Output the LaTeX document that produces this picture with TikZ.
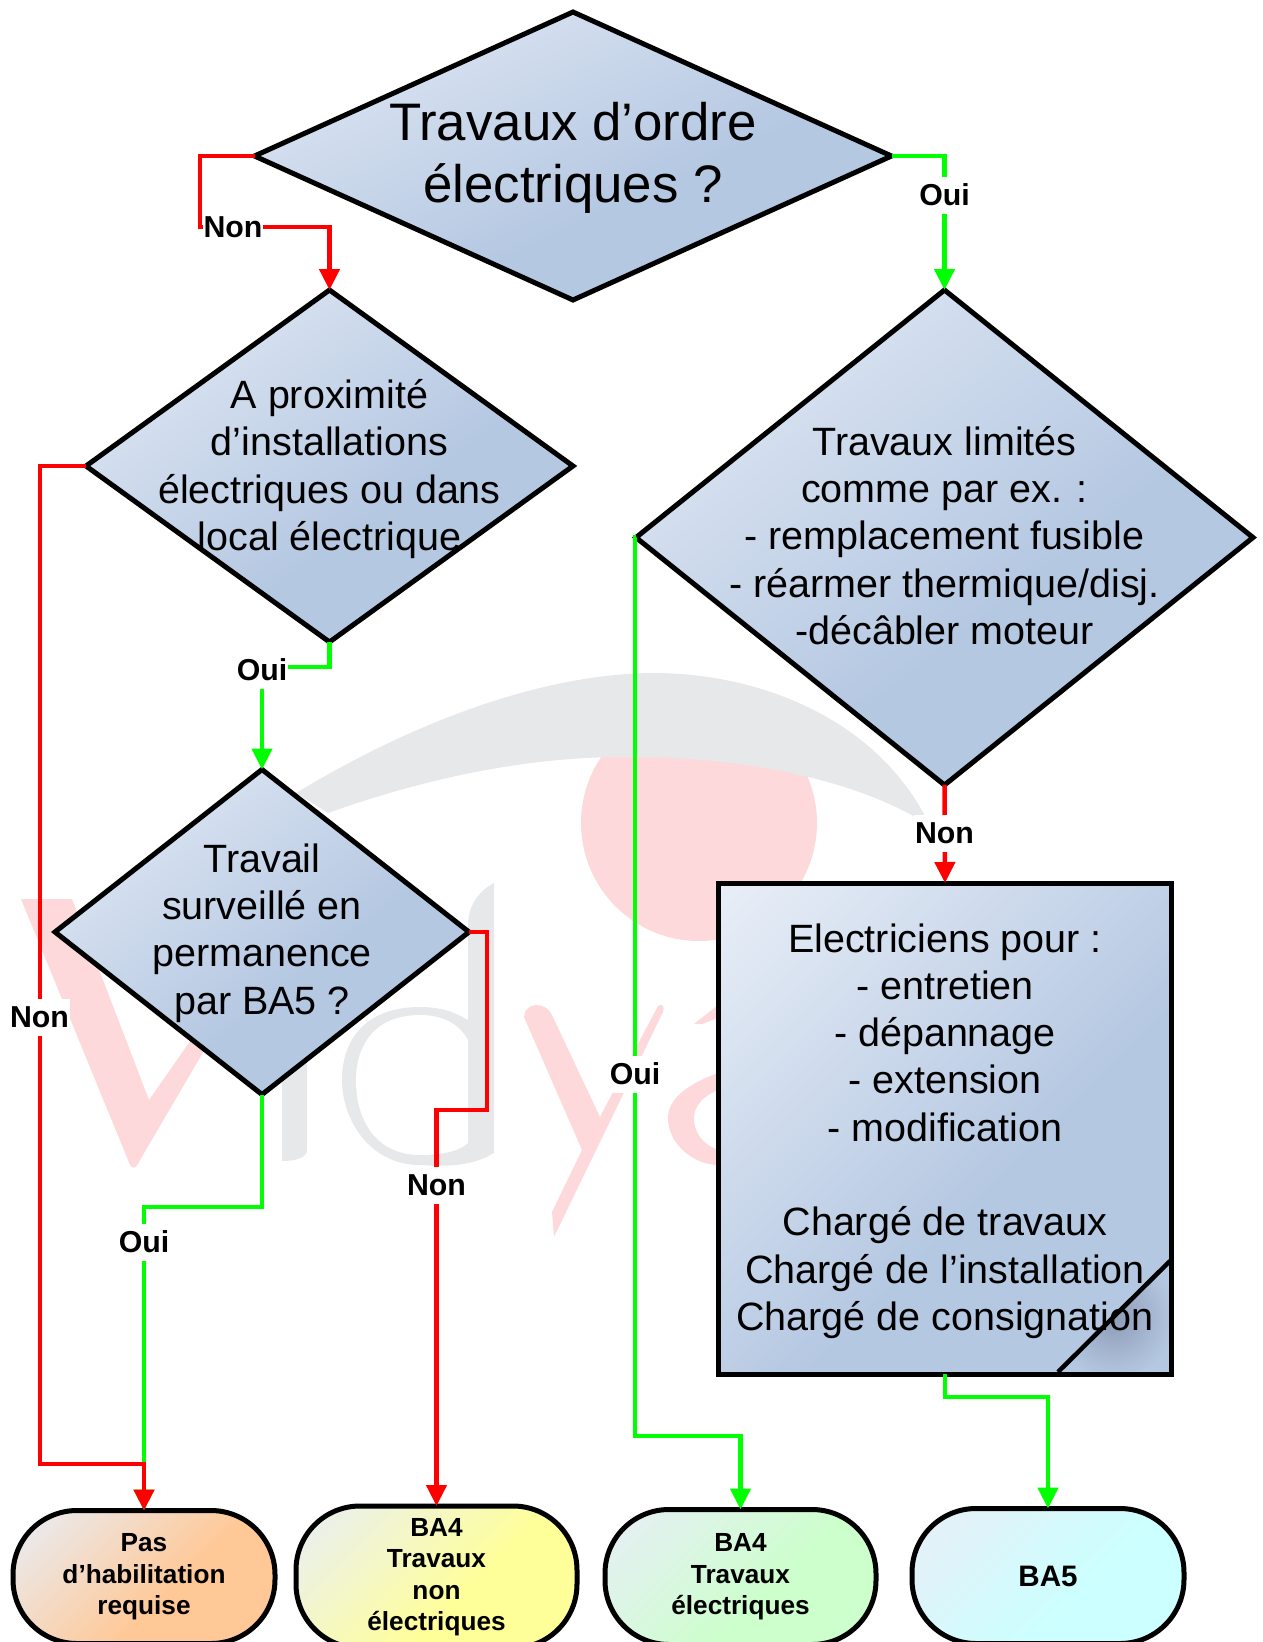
\documentclass[tikz,border=0pt]{standalone}
\usepackage{fontspec}
\setmainfont{Liberation Sans}
\usetikzlibrary{shapes.geometric,arrows.meta}
\definecolor{blueA}{HTML}{E8EEF7}
\definecolor{blueB}{HTML}{B5C8E2}
\definecolor{orA}{HTML}{E8EEF7}
\definecolor{orB}{HTML}{FFC896}
\definecolor{yeA}{HTML}{E8EEF7}
\definecolor{yeB}{HTML}{FFFF99}
\definecolor{grA}{HTML}{E8EEF7}
\definecolor{grB}{HTML}{CCFFCC}
\definecolor{cyA}{HTML}{E8EEF7}
\definecolor{cyB}{HTML}{CCFFFF}
\definecolor{wmpink}{HTML}{FDD9DB}
\definecolor{wmgrey}{HTML}{E6E8EA}
\definecolor{foldC}{HTML}{8E9CB6}
\pgfdeclarehorizontalshading{gblue}{100bp}{color(0bp)=(blueA); color(15bp)=(blueA); color(58bp)=(blueB); color(100bp)=(blueB)}
\pgfdeclarehorizontalshading{gor}{100bp}{color(0bp)=(orA); color(15bp)=(orA); color(58bp)=(orB); color(100bp)=(orB)}
\pgfdeclarehorizontalshading{gye}{100bp}{color(0bp)=(yeA); color(15bp)=(yeA); color(58bp)=(yeB); color(100bp)=(yeB)}
\pgfdeclarehorizontalshading{ggr}{100bp}{color(0bp)=(grA); color(15bp)=(grA); color(58bp)=(grB); color(100bp)=(grB)}
\pgfdeclarehorizontalshading{gcy}{100bp}{color(0bp)=(cyA); color(15bp)=(cyA); color(58bp)=(cyB); color(100bp)=(cyB)}
\tikzset{
  decision/.style={diamond,draw=black,line width=5pt,inner sep=0pt,outer sep=0pt,shading=gblue,shading angle=-52},
  dtext/.style={align=center,font=\fontsize{39.5}{47.3}\selectfont,inner sep=0pt},
  terminal/.style={rectangle,rounded corners=64pt,draw=black,line width=5pt,outer sep=0pt,inner sep=0pt,align=center,
    font=\fontsize{26.2}{31.5}\selectfont\bfseries,shading angle=-45},
  conn/.style={line width=4.5pt,line join=miter},
  tip/.style={-{Triangle[width=20pt,length=21pt]}},
  tag/.style={fill=white,font=\fontsize{30.3}{32}\selectfont\bfseries,inner xsep=1pt,inner ysep=2pt,text height=27pt,text depth=6pt},
}
\begin{document}
\begin{tikzpicture}[x=1pt,y=-1pt]
\useasboundingbox (0,0) rectangle (1263,1642);
% watermark
\fill[wmpink] (699,823) circle (118);
\fill[wmgrey] (296,793) .. controls (400,730) and (530,675) .. (650,673)
  .. controls (760,672) and (880,720) .. (930,826)
  .. controls (860,780) and (740,755) .. (617,757)
  .. controls (520,758) and (420,780) .. (328,813) -- cycle;
\fill[wmpink] (21,899) -- (72,899) -- (149,1100) -- (200,1027) -- (215,1032)
  -- (140,1160) .. controls (136,1170) and (131,1170) .. (128,1160) -- cycle;
\fill[wmgrey] (282,1161) -- (282,960) -- (307,960) -- (307,1150) .. controls (307,1158) and (295,1161) .. (282,1161) -- cycle;
\fill[wmgrey] (494,883) -- (494,1153) .. controls (470,1168) and (440,1166) .. (420,1165)
  .. controls (370,1165) and (342,1120) .. (342,1080) .. controls (342,1040) and (365,1007) .. (420,1007)
  .. controls (440,1007) and (455,1012) .. (468,1020) -- (468,925) .. controls (468,905) and (480,890) .. (494,883) -- cycle;
\fill[white] (420,1015) .. controls (375,1015) and (356,1045) .. (356,1080) .. controls (356,1125) and (380,1155) .. (420,1155)
  .. controls (440,1155) and (458,1152) .. (468,1143) -- (468,1040) .. controls (458,1022) and (440,1015) .. (420,1015) -- cycle;
\fill[wmpink] (524,1017) .. controls (524,1003) and (545,1000) .. (552,1015) -- (600,1117) -- (640,1040) -- (658,1006)
  .. controls (662,1003) and (665,1006) .. (663,1012) -- (554,1237) -- (552,1212) -- (582,1150) -- cycle;
\fill[wmpink] (694,1024) -- (718,1005) -- (718,1018) -- (702,1024) -- cycle;
\fill[wmpink] (718,1073) .. controls (685,1085) and (668,1100) .. (668,1118) .. controls (668,1145) and (695,1165) .. (718,1165)
  -- (718,1150) .. controls (705,1145) and (694,1135) .. (694,1118) .. controls (694,1105) and (705,1095) .. (718,1090) -- cycle;

% decisions
\node[decision,shading angle=-65,minimum width=637pt,minimum height=288pt,label={[dtext,yshift=-2pt,font=\fontsize{52.8}{62.5}\selectfont]center:Travaux d’ordre\\électriques ?}] (d1) at (573,156) {};
\node[decision,shading angle=-54,minimum width=487pt,minimum height=352pt,label={[dtext,yshift=-3pt]center:A proximité\\d’installations\\électriques ou dans\\local électrique}] (d2) at (329.5,466) {};
\node[decision,minimum width=414pt,minimum height=325pt,label={[dtext,yshift=-1pt]center:Travail\\surveillé en\\permanence\\par BA5 ?}] (d3) at (262,932) {};
\node[decision,minimum width=617pt,minimum height=495pt,label={[dtext,yshift=2pt]center:Travaux limités\\comme par ex. :\\- remplacement fusible\\- réarmer thermique/disj.\\-décâbler moteur}] (d4) at (944.5,537.5) {};

% work box
\node[rectangle,draw=black,line width=5pt,outer sep=0pt,shading=gblue,shading angle=-45,minimum width=453pt,minimum height=491pt] (box) at (945,1128.5) {};
\begin{scope}
  \clip (1058,1373) -- (1170,1262) -- (1170,1373) -- cycle;
  \shade[inner color=foldC,outer color=blueB] (1114,1317) circle (62);
\end{scope}
\draw[line width=4.5pt] (box.south) ++(113,-2) -- ++(112,-111);
\draw[black,line width=5pt] (box.south west) rectangle (box.north east);
\node[dtext] (boxtext) at (945,1131) {Electriciens pour :\\- entretien\\- dépannage\\- extension\\- modification\\~\\Chargé de travaux\\Chargé de l’installation\\Chargé de consignation};

% terminals
\node[terminal,shading=gor,minimum width=262pt,minimum height=133pt] (t1) at (144,1577) {Pas\\d’habilitation\\requise};
\node[terminal,shading=gye,minimum width=281pt,minimum height=142pt] (t2) at (436.5,1577) {BA4\\Travaux\\non\\électriques};
\node[terminal,shading=ggr,minimum width=271pt,minimum height=135pt] (t3) at (740.5,1577) {BA4\\Travaux\\électriques};
\node[terminal,shading=gcy,minimum width=272pt,minimum height=135pt,font=\fontsize{29.6}{32}\selectfont\bfseries] (t4) at (1048,1576) {BA5};

% connectors
\draw[conn,tip,green] (d1.east) -- (944.5,156) -- (d4.north);
\draw[conn,tip,red] (d1.west) -- (200,156) -- (200,227) -- (329.5,227) -- (d2.north);
\draw[conn,tip,green] (d2.south) -- (329.5,667) -- (262,667) -- (d3.north);
\draw[conn,tip,green] (d3.south) -- (262,1207) -- (144,1207) -- (t1.north);
\draw[conn,tip,red] (d2.west) -- (40,466) -- (40,1464) -- (144,1464) -- (t1.north);
\draw[conn,tip,red] (d3.east) -- (487,932) -- (487,1110) -- (436.5,1110) -- (t2.north);
\draw[conn,tip,green] (d4.west) -- (635,537.5) -- (635,1436) -- (740.5,1436) -- (t3.north);
\draw[conn,tip,red] (d4.south) -- (box.north);
\draw[conn,tip,green] (box.south) -- (945,1397) -- (1048,1397) -- (t4.north);

% connector labels
\node[tag] (l1) at (233,227) {Non};
\node[tag] (l2) at (944.5,195) {Oui};
\node[tag] (l3) at (262,670) {Oui};
\node[tag] (l4) at (39.5,1017) {Non};
\node[tag] (l5) at (436.5,1185) {Non};
\node[tag] (l6) at (144,1242) {Oui};
\node[tag] (l7) at (635,1074) {Oui};
\node[tag] (l8) at (944.5,833) {Non};
\end{tikzpicture}
\end{document}
